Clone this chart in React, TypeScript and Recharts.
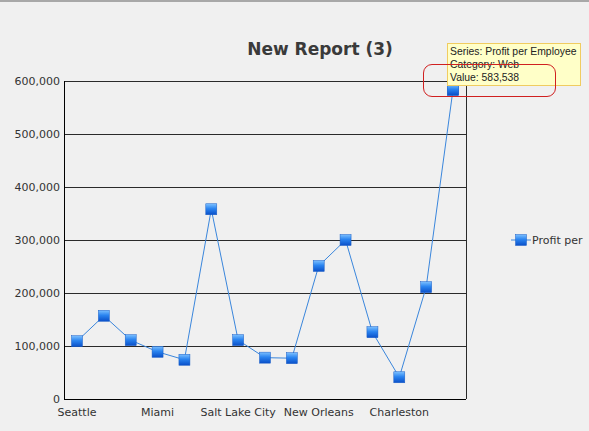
import React from 'react';
import { LineChart, Line, XAxis, YAxis, CartesianGrid, Tooltip } from 'recharts';

const categories = [
  'Seattle', 'Portland', 'San Diego', 'Miami', 'Atlanta',
  'Boston', 'Salt Lake City', 'Denver', 'Phoenix', 'New Orleans',
  'Chicago', 'Dallas', 'Charleston', 'Houston', 'Web',
];
const profitPerEmployee = [
  109000, 157000, 111000, 89000, 74000,
  358000, 111000, 78000, 77000, 251000,
  300000, 126000, 41000, 211000, 583538,
];
const yTicks = [0, 100000, 200000, 300000, 400000, 500000, 600000];

const data = categories.map((name, i) => ({ name, value: profitPerEmployee[i] }));

const FONT = '"DejaVu Sans", Verdana, sans-serif';
const fmt = (v: number) => v.toLocaleString('en-US');

const SquareDot = (props: any) => {
  const { cx, cy, index } = props;
  if (cx == null || cy == null) return null;
  return (
    <rect
      key={`dot-${index}`}
      x={cx - 5.5}
      y={cy - 5.5}
      width={11}
      height={11}
      fill="url(#dotGrad)"
      stroke="#1a5fc8"
      strokeWidth={0.5}
    />
  );
};

const TipBox = ({ active, payload }: any) => {
  if (!active || !payload || !payload.length) return null;
  const p = payload[0];
  return (
    <div
      style={{
        background: '#ffffc8',
        border: '1px solid #f0cc60',
        padding: '1px 2px',
        width: 128,
        fontFamily: '"Liberation Sans", Arial, sans-serif',
        fontSize: 10.4,
        lineHeight: '13px',
        color: '#222',
        whiteSpace: 'nowrap',
      }}
    >
      <div>Series: Profit per Employee</div>
      <div>Category: {p.payload.name}</div>
      <div>Value: {fmt(p.value)}</div>
    </div>
  );
};

const App: React.FC = () => {
  return (
    <div
      style={{
        position: 'fixed',
        left: 0,
        top: 0,
        width: 589,
        height: 431,
        overflow: 'hidden',
        background: '#f0f0f0',
        borderTop: '2px solid #a8a8a8',
        boxSizing: 'border-box',
        fontFamily: FONT,
      }}
    >
      <div
        style={{
          position: 'absolute',
          top: 37,
          left: 240,
          width: 160,
          textAlign: 'center',
          fontSize: 17,
          fontWeight: 'bold',
          color: '#3a3a3a',
        }}
      >
        New Report (3)
      </div>

      <div style={{ position: 'absolute', left: 0, top: -2 }}>
        <LineChart
          width={589}
          height={431}
          data={data}
          margin={{ top: 81, right: 123, bottom: 0, left: 0 }}
        >
          <defs>
            <linearGradient id="dotGrad" x1="0" y1="0" x2="0" y2="1">
              <stop offset="0%" stopColor="#7cc0ff" />
              <stop offset="45%" stopColor="#2a84f0" />
              <stop offset="100%" stopColor="#0a4fc8" />
            </linearGradient>
          </defs>
          <CartesianGrid
            stroke="#2a2a2a"
            vertical={true}
            verticalPoints={[466]}
            horizontal={true}
            shapeRendering="crispEdges"
          />
          <XAxis
            dataKey="name"
            height={32}
            interval={2}
            padding={{ left: 13, right: 13 }}
            axisLine={{ stroke: '#000', shapeRendering: 'crispEdges' }}
            tickLine={false}
            tickSize={6}
            tickMargin={3}
            tick={{ fill: '#333', fontSize: 11, fontFamily: FONT }}
          />
          <YAxis
            width={64}
            domain={[0, 600000]}
            ticks={yTicks}
            interval={0}
            tickFormatter={fmt}
            axisLine={{ stroke: '#000', shapeRendering: 'crispEdges' }}
            tickLine={false}
            tickSize={4}
            tickMargin={0}
            tick={{ fill: '#333', fontSize: 11, fontFamily: FONT }}
          />
          <Tooltip
            active={true}
            defaultIndex={14}
            cursor={false}
            isAnimationActive={false}
            position={{ x: 447, y: 43 }}
            content={<TipBox />}
            wrapperStyle={{ outline: 'none' }}
          />
          <Line
            type="linear"
            dataKey="value"
            name="Profit per Employee"
            stroke="#3a86dc"
            strokeWidth={1}
            dot={<SquareDot />}
            activeDot={<SquareDot />}
            isAnimationActive={false}
          />
        </LineChart>
      </div>

      <div
        style={{
          position: 'absolute',
          left: 423,
          top: 62,
          width: 131,
          height: 31,
          border: '1px solid #d02020',
          borderRadius: 9,
          pointerEvents: 'none',
        }}
      />

      <div
        style={{
          position: 'absolute',
          left: 511,
          top: 231,
          display: 'flex',
          alignItems: 'center',
          whiteSpace: 'nowrap',
          fontSize: 11,
          color: '#333',
        }}
      >
        <svg width={20} height={14} style={{ marginRight: 1 }}>
          <defs>
            <linearGradient id="legGrad" x1="0" y1="0" x2="0" y2="1">
              <stop offset="0%" stopColor="#7cc0ff" />
              <stop offset="45%" stopColor="#2a84f0" />
              <stop offset="100%" stopColor="#0a4fc8" />
            </linearGradient>
          </defs>
          <line x1={0} y1={7} x2={20} y2={7} stroke="#3a86dc" strokeWidth={1} />
          <rect x={4.5} y={1.5} width={11} height={11} fill="url(#legGrad)" stroke="#1a5fc8" strokeWidth={0.5} />
        </svg>
        <span>Profit per</span>
      </div>
    </div>
  );
};

export default App;
